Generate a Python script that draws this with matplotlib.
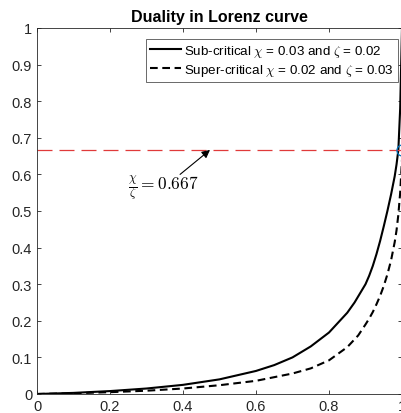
import matplotlib
matplotlib.use("Agg")
import matplotlib.pyplot as plt

plt.rcParams['font.family'] = ['Liberation Sans', 'DejaVu Sans']
plt.rcParams['mathtext.fontset'] = 'cm'

title = "Duality in Lorenz curve"
sub_label = r"Sub-critical $\chi$ = 0.03 and $\zeta$ = 0.02"
sup_label = r"Super-critical $\chi$ = 0.02 and $\zeta$ = 0.03"

sub_x = [0, 0.1, 0.2, 0.3, 0.4, 0.5, 0.6, 0.65, 0.7, 0.75, 0.8, 0.85, 0.87, 0.9,
         0.91, 0.92, 0.93, 0.94, 0.95, 0.96, 0.97, 0.98, 0.985, 0.99, 0.995, 1.0]
sub_y = [0, 0.003, 0.008, 0.015, 0.025, 0.04, 0.063, 0.079, 0.1, 0.13, 0.168,
         0.222, 0.25, 0.30, 0.323, 0.35, 0.382, 0.418, 0.458, 0.50, 0.545, 0.595,
         0.627, 0.667, 0.78, 1.0]

sup_x = [0, 0.1, 0.2, 0.3, 0.4, 0.5, 0.6, 0.7, 0.75, 0.8, 0.85, 0.88, 0.9, 0.91,
         0.92, 0.93, 0.94, 0.95, 0.96, 0.97, 0.98, 0.985, 0.99, 0.995, 1.0]
sup_y = [0, 0.002, 0.005, 0.009, 0.015, 0.024, 0.036, 0.056, 0.07, 0.092, 0.128,
         0.16, 0.19, 0.206, 0.224, 0.245, 0.268, 0.295, 0.327, 0.365, 0.415,
         0.447, 0.49, 0.55, 0.64]

ratio = 0.667
ratio_label = r"$\frac{\chi}{\zeta} = 0.667$"

xticks = [0, 0.2, 0.4, 0.6, 0.8, 1]
xticklabels = ["0", "0.2", "0.4", "0.6", "0.8", "1"]
yticks = [0, 0.1, 0.2, 0.3, 0.4, 0.5, 0.6, 0.7, 0.8, 0.9, 1]
yticklabels = ["0", "0.1", "0.2", "0.3", "0.4", "0.5", "0.6", "0.7", "0.8", "0.9", "1"]

fig = plt.figure(figsize=(4.01, 4.14), dpi=100)
ax = fig.add_axes([37/401, 19/414, 365/401, 366/414])

ax.plot(sub_x, sub_y, color='black', lw=1.5, label=sub_label)
ax.plot(sup_x, sup_y, color='black', lw=1.5, ls=(0, (3.7, 2.2)), label=sup_label)
ax.axhline(ratio, color='#e03a3a', lw=0.9, ls=(0, (12, 5.6)))
ax.plot([1.0], [ratio], marker='o', ms=8, mfc='none', mec='#0072BD', mew=0.9, clip_on=False)

ax.text(0.345, 0.565, ratio_label, fontsize=12.5, ha='center', va='center')
ax.annotate("", xy=(0.474, ratio), xytext=(0.392, 0.600),
            arrowprops=dict(arrowstyle='-|>', color='black', lw=0.8,
                            shrinkA=0, shrinkB=0, mutation_scale=12))

ax.set_xlim(0, 1)
ax.set_ylim(0, 1)
ax.set_xticks(xticks)
ax.set_xticklabels(xticklabels)
ax.set_yticks(yticks)
ax.set_yticklabels(yticklabels)
ax.tick_params(direction='in', top=True, right=True, length=3, width=0.6,
               labelsize=10.5, colors='#262626', pad=3.5)
for s in ax.spines.values():
    s.set_color('#262626')
    s.set_linewidth(0.6)

ax.set_title(title, fontsize=11.5, fontweight='bold', color='black', pad=5)

leg = ax.legend(loc='upper right', bbox_to_anchor=(0.989, 0.97), fontsize=9.6,
                frameon=True, fancybox=False, borderpad=0.3, handlelength=2.3,
                handletextpad=0.25, labelspacing=0.2, borderaxespad=0)
leg.get_frame().set_edgecolor('#262626')
leg.get_frame().set_linewidth(0.6)

fig.savefig("out.png", dpi=100)
